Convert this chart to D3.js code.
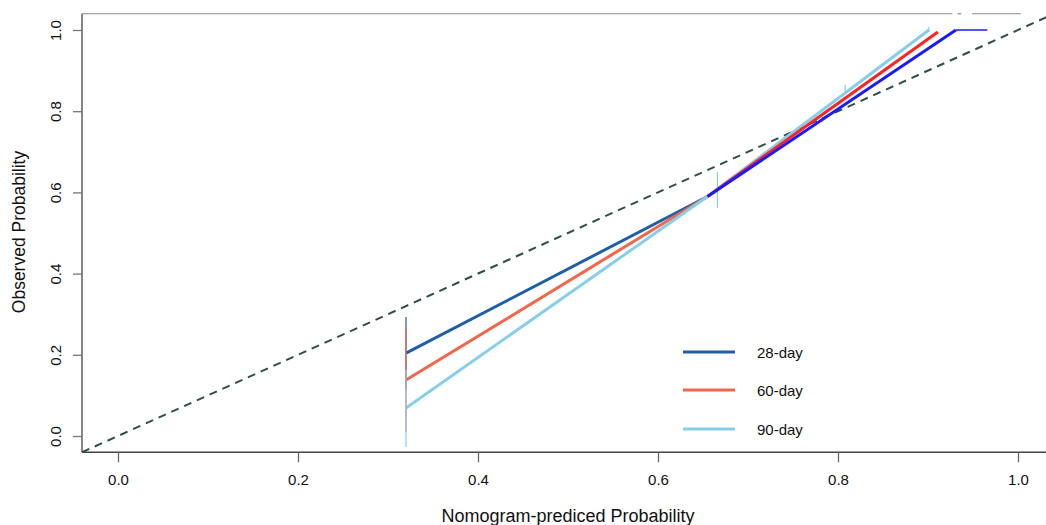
<!DOCTYPE html>
<html>
<head>
<meta charset="utf-8">
<script src="https://cdn.jsdelivr.net/npm/d3@7"></script>
<style>
  body { margin: 0; background: #fff; }
  text { font-family: "Liberation Sans", Arial, sans-serif; fill: #111; }
</style>
</head>
<body>
<div id="chart"></div>
<script>
// calibration data
var seriesNames = ["28-day", "60-day", "90-day"]
var tickValues = [0, 0.2, 0.4, 0.6, 0.8, 1.0]

// lower part of each curve (group at 0.32 up to the joint)
var predLow = [0.32, 0.655]
var obs28Low = [0.204, 0.59]
var obs60Low = [0.138, 0.59]
var obs90Low = [0.069, 0.59]

// upper part of each curve
var pred28High = [0.655, 0.931, 0.966]
var obs28High = [0.59, 1.0, 1.0]
var pred60High = [0.655, 0.911]
var obs60High = [0.59, 0.995]
var pred90High = [0.655, 0.808, 0.901]
var obs90High = [0.59, 0.845, 1.0]

// error bars: x, low, high
var bar28 = [[0.32, 0.115, 0.293]]
var bar60 = [[0.32, 0.010, 0.266]]
var bar90 = [[0.32, -0.027, 0.163], [0.666, 0.562, 0.650], [0.808, 0.845, 0.865], [0.901, 0.995, 1.008]]

// top frame pieces (x ranges at y = 1.04)
var topFrame = [[-0.04, 0.927], [0.933, 0.937], [0.949, 1.003]]

var width = 1046, height = 525

var svg = d3.select("#chart").append("svg")
    .attr("width", width)
    .attr("height", height)

var x = d3.scaleLinear().domain([0, 1]).range([118, 1018])
var y = d3.scaleLinear().domain([0, 1]).range([436, 30])

var lowColors = ["#1f5fa8", "#f4664a", "#87ceeb"]
var highColors = ["#1a1aff", "#ff2222", "#87ceeb"]

var zip = function(a, b) { return a.map((v, i) => [v, b[i]]) }
var line = d3.line().x(d => x(d[0])).y(d => y(d[1]))

// ideal line
svg.append("path")
    .attr("d", line([[-0.04, -0.04], [1.04, 1.04]]))
    .attr("stroke", "#2f4f4f")
    .attr("stroke-width", 2)
    .attr("stroke-dasharray", "8,6")
    .attr("fill", "none")

// lower curves
var lows = [zip(predLow, obs28Low), zip(predLow, obs60Low), zip(predLow, obs90Low)]
lows.forEach((d, i) => {
    svg.append("path")
        .attr("d", line(d))
        .attr("stroke", lowColors[i])
        .attr("stroke-width", 3)
        .attr("fill", "none")
})

// error bars
var bars = [bar28, bar60, bar90]
bars.forEach((b, i) => {
    svg.selectAll(null)
        .data(b)
        .enter()
        .append("line")
        .attr("x1", d => x(d[0]))
        .attr("x2", d => x(d[0]))
        .attr("y1", d => y(d[1]))
        .attr("y2", d => y(d[2]))
        .attr("stroke", lowColors[i])
        .attr("stroke-width", 1.2)
})

// upper curves, 28-day drawn last
var highs = [zip(pred28High, obs28High), zip(pred60High, obs60High), zip(pred90High, obs90High)]
;[2, 1, 0].forEach(i => {
    var main = i == 0 ? highs[i].slice(0, 2) : highs[i]
    svg.append("path")
        .attr("d", line(main))
        .attr("stroke", highColors[i])
        .attr("stroke-width", 3)
        .attr("fill", "none")
    if (i == 0) {
        svg.append("path")
            .attr("d", line(highs[i].slice(1)))
            .attr("stroke", highColors[i])
            .attr("stroke-width", 1.5)
            .attr("fill", "none")
    }
})

// frame
topFrame.forEach(s => {
    svg.append("line")
        .attr("x1", x(s[0])).attr("x2", x(s[1]))
        .attr("y1", y(1.04)).attr("y2", y(1.04))
        .attr("stroke", "#888")
        .attr("stroke-width", 1.2)
})
svg.append("line")
    .attr("x1", x(-0.04)).attr("x2", x(-0.04))
    .attr("y1", y(1.04)).attr("y2", y(-0.04))
    .attr("stroke", "#444")
    .attr("stroke-width", 1.3)
svg.append("line")
    .attr("x1", x(-0.04)).attr("x2", width)
    .attr("y1", y(-0.04)).attr("y2", y(-0.04))
    .attr("stroke", "#444")
    .attr("stroke-width", 1.3)

// x axis
var xAxis = svg.append("g")
    .attr("transform", "translate(0," + y(-0.04) + ")")
    .call(d3.axisBottom(x).tickValues(tickValues).tickFormat(d3.format(".1f")).tickSize(10).tickPadding(12))
xAxis.select(".domain").remove()
xAxis.selectAll(".tick line").attr("stroke", "#666").attr("stroke-width", 1.3)
xAxis.selectAll("text").style("font-size", "15px").attr("fill", "#111")

// y axis
var yAxis = svg.append("g")
    .attr("transform", "translate(" + x(-0.04) + ",0)")
    .call(d3.axisLeft(y).tickValues(tickValues).tickFormat(d3.format(".1f")).tickSize(9))
yAxis.select(".domain").remove()
yAxis.selectAll(".tick line").attr("stroke", "#777").attr("stroke-width", 1.3)
yAxis.selectAll("text")
    .attr("x", 0).attr("dy", 0)
    .attr("text-anchor", "middle")
    .attr("transform", "translate(-21,0) rotate(-90)")
    .style("font-size", "15px").attr("fill", "#111")

// axis titles
svg.append("text")
    .attr("x", 568).attr("y", 522)
    .attr("text-anchor", "middle")
    .style("font-size", "18px")
    .text("Nomogram-prediced Probability")
svg.append("text")
    .attr("transform", "translate(25,232) rotate(-90)")
    .attr("text-anchor", "middle")
    .style("font-size", "17.5px")
    .text("Observed Probability")

// legend
var legendY = [352, 390, 429]
seriesNames.forEach((name, i) => {
    svg.append("line")
        .attr("x1", 683).attr("x2", 735)
        .attr("y1", legendY[i]).attr("y2", legendY[i])
        .attr("stroke", lowColors[i])
        .attr("stroke-width", 3)
    svg.append("text")
        .attr("x", 757).attr("y", legendY[i])
        .attr("dominant-baseline", "central")
        .style("font-size", "15px")
        .text(name)
})
</script>
</body>
</html>
